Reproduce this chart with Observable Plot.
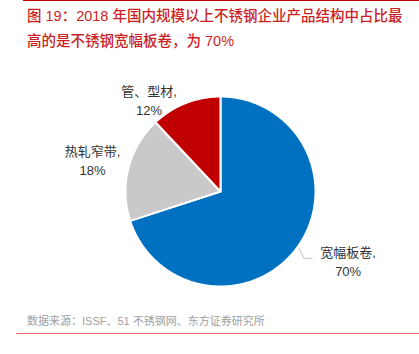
<!DOCTYPE html>
<html><head><meta charset="utf-8">
<script src="https://cdn.jsdelivr.net/npm/d3@7"></script>
<script src="https://cdn.jsdelivr.net/npm/@observablehq/plot@0.6"></script>
<style>
body{margin:0;background:#fff;width:419px;height:354px;overflow:hidden;position:relative;font-family:"Liberation Sans","Noto Sans CJK SC",sans-serif;}
#topline{position:absolute;left:23px;top:0;width:396px;height:1px;background:#c00000;}
#title{position:absolute;left:27px;top:4px;font-size:14.5px;line-height:25px;color:#cc1f25;font-weight:500;white-space:nowrap;}
#chart{position:absolute;left:0;top:55px;}
#source{position:absolute;left:27px;top:312px;font-size:11px;line-height:18px;color:#a0a0a0;white-space:nowrap;}
#bottomline{position:absolute;left:16px;top:332.5px;width:403px;height:1.5px;background:#e57373;}
</style></head>
<body>
<div id="topline"></div>
<div id="title">图 19：2018 年国内规模以上不锈钢企业产品结构中占比最<br>高的是不锈钢宽幅板卷，为 70%</div>
<div id="chart"></div>
<div id="source">数据来源：ISSF、51 不锈钢网、东方证券研究所</div>
<div id="bottomline"></div>
<script>
// data
const categories = ["宽幅板卷", "热轧窄带", "管、型材"];
const shares = [70, 18, 12];
const colors = ["#0070c0", "#c9c9c9", "#c00000"];

// layout
const W = 419, H = 251;
const cx = 220, cy = 136, R = 95;
const labelDx = [50.8, -36, -36.4];
const labelDy = [13.4, -8.6, -4.1];

const arcs = d3.pie().sort(null).value(d => d)(shares);
const pt = (a, r) => [cx + r * Math.sin(a), cy - r * Math.cos(a)];

const poly = [];
arcs.forEach((a, i) => {
  const n = Math.max(2, Math.ceil((a.endAngle - a.startAngle) / (Math.PI / 360)));
  poly.push({k: categories[i], c: colors[i], x: cx, y: cy});
  for (let j = 0; j <= n; j++) {
    const ang = a.startAngle + (a.endAngle - a.startAngle) * j / n;
    const [x, y] = pt(ang, R);
    poly.push({k: categories[i], c: colors[i], x, y});
  }
  poly.push({k: categories[i], c: colors[i], x: cx, y: cy});
});

const labels = arcs.map((a, i) => {
  const mid = (a.startAngle + a.endAngle) / 2;
  const [ex, ey] = pt(mid, R);
  return {x: ex + labelDx[i], y: ey + labelDy[i], text: categories[i] + ",\n" + shares[i] + "%", mid};
});

// leader for the first slice
const l0 = labels[0];
const [sx, sy] = pt(l0.mid, R + 2);
const leader = [
  {x: sx, y: sy},
  {x: l0.x - 44, y: l0.y - 2.5},
  {x: l0.x - 36, y: l0.y - 2.5}
];

const chart = Plot.plot({
  width: W, height: H,
  margin: 0,
  x: {domain: [0, W], range: [0, W], axis: null},
  y: {domain: [0, H], range: [0, H], axis: null},
  color: {type: "identity"},
  style: {fontFamily: "Liberation Sans, Noto Sans CJK SC, sans-serif", background: "transparent", overflow: "visible"},
  marks: [
    Plot.line(poly, {x: "x", y: "y", z: "k", fill: "c", stroke: "#ffffff", strokeWidth: 2, strokeLinejoin: "round"}),
    Plot.line(leader, {x: "x", y: "y", stroke: "#bfbfbf", strokeWidth: 1}),
    Plot.text(labels, {x: "x", y: "y", text: "text", fontSize: 13, lineHeight: 1.46, fill: "#333333", textAnchor: "middle", lineAnchor: "middle"})
  ]
});
document.getElementById("chart").appendChild(chart);
</script>
</body></html>
